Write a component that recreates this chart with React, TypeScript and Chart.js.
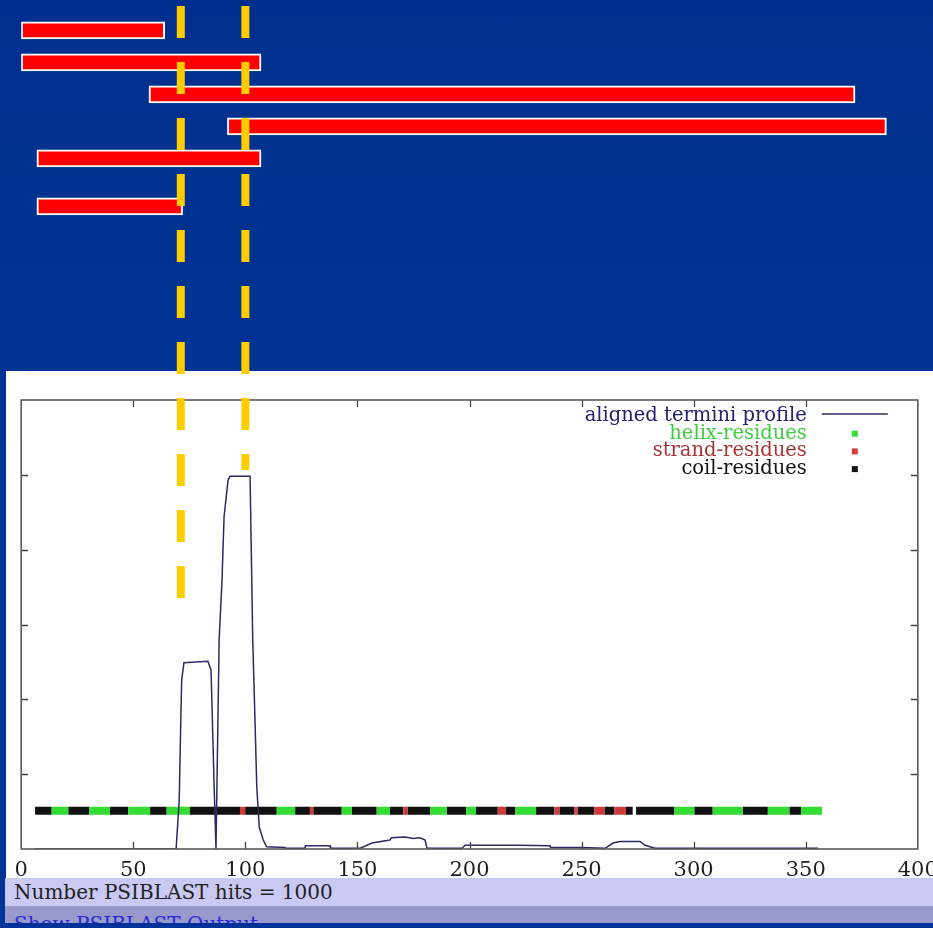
import React, { useEffect, useRef } from "react";
import { Chart, registerables } from "chart.js";

Chart.register(...registerables);

// ---------------- data ----------------
const xTickValues = [0, 50, 100, 150, 200, 250, 300, 350, 400];
const yTickValues = [1, 2, 3, 4, 5];

const profileX = [
  6, 69.1, 70.5, 71.2, 71.6, 72.6, 83.3, 84.7, 86.0, 86.9, 88.3, 89.6, 90.5, 92.3, 93.2, 102.1,
  103.3, 104.3, 105.1, 106.2, 108.0, 109.5, 117.7, 117.8, 126.6, 126.8, 137.8, 138.0, 151.2, 156.5,
  164.5, 165.2, 171.2, 175.0, 177.9, 180.2, 181.0, 196.7, 198.0, 221.2, 235.9, 236.2, 249.3, 260.5,
  264.0, 267.2, 276.1, 278.3, 282.8, 355.5,
];
const profileY = [
  0, 0, 0.65, 1.72, 2.26, 2.49, 2.51, 2.39, 0.92, 0, 2.79, 3.6, 4.44, 4.93, 4.98, 4.98,
  2.79, 1.72, 0.83, 0.29, 0.12, 0.03, 0.02, 0.01, 0.01, 0.045, 0.045, 0.01, 0.01, 0.08,
  0.12, 0.15, 0.16, 0.14, 0.15, 0.12, 0.01, 0.01, 0.05, 0.05, 0.045, 0.02, 0.02, 0.01,
  0.08, 0.1, 0.1, 0.05, 0.01, 0.01,
];

// secondary-structure band: C = coil, H = helix, E = strand
const residueLevel = 0.51;
const residueStarts = [
  6.2, 13.6, 21.0, 30.4, 39.6, 47.8, 57.5, 64.9, 75.3, 97.6, 99.9, 114.0, 122.2, 128.8, 130.3,
  143.0, 147.5, 158.6, 164.5, 170.5, 172.3, 182.4, 189.8, 198.5, 202.9, 212.6, 216.3, 220.5,
  229.7, 237.9, 240.1, 246.8, 248.3, 255.7, 260.2, 264.6, 269.8, 274.3, 291.4, 300.3, 308.5,
  321.9, 333.1, 342.7, 347.9,
];
const residueEnds = [
  13.6, 21.0, 30.4, 39.6, 47.8, 57.5, 64.9, 75.3, 97.6, 99.9, 114.0, 122.2, 128.8, 130.3, 143.0,
  147.5, 158.6, 164.5, 170.5, 172.3, 182.4, 189.8, 198.5, 202.9, 212.6, 216.3, 220.5, 229.7,
  237.9, 240.1, 246.8, 248.3, 255.7, 260.2, 264.6, 269.8, 272.8, 291.4, 300.3, 308.5, 321.9,
  333.1, 342.7, 347.9, 357.3,
];
const residueTypes = [
  "C", "H", "C", "H", "C", "H", "C", "H", "C", "E", "C", "H", "C", "E", "C",
  "H", "C", "H", "C", "E", "C", "H", "C", "H", "C", "E", "C", "H",
  "C", "E", "C", "E", "C", "E", "C", "E", "C", "C", "H", "C", "H",
  "C", "H", "C", "H",
];

// PSI-BLAST hit ranges (top panel)
const hitRows = [1, 2, 3, 4, 5, 6.5];
const hitStarts = [0, 0, 57, 92, 7, 7];
const hitEnds = [64, 107, 372, 386, 107, 72];

// yellow dashed guides
const guideX = [71.2, 100];
const guideTop = [0.24, 0.24];
const guideBottom = [18.74, 14.74];

const legendLabels = ["aligned termini profile", "helix-residues", "strand-residues", "coil-residues"];
const legendTextColors = ["#22226e", "#3fcc3f", "#a83535", "#111111"];
const hitsText = "Number PSIBLAST hits = 1000";
const linkText = "Show PSIBLAST Output";

// ---------------- colours ----------------
const PROFILE = "#2b2b62";
const HELIX = "#33dd33";
const STRAND = "#d03a3a";
const COIL = "#111111";

function residueSeries(type: string) {
  const pts: any[] = [];
  residueTypes.forEach((t, i) => {
    if (t !== type) return;
    pts.push({ x: residueStarts[i], y: residueLevel });
    pts.push({ x: residueEnds[i], y: residueLevel });
    pts.push({ x: residueEnds[i], y: null });
  });
  return pts;
}

const framePlugin = {
  id: "gnuplotFrame",
  afterDraw(chart: any) {
    const { ctx, chartArea: a, scales } = chart;
    const xs = scales.x;
    const ys = scales.y;
    ctx.save();
    // inward ticks
    ctx.strokeStyle = "#444";
    ctx.lineWidth = 1.3;
    const tl = 7;
    ctx.beginPath();
    xs.ticks.forEach((t: any) => {
      if (t.value <= xs.min || t.value >= xs.max) return;
      const px = Math.round(xs.getPixelForValue(t.value)) + 0.5;
      ctx.moveTo(px, a.bottom);
      ctx.lineTo(px, a.bottom - tl);
      ctx.moveTo(px, a.top);
      ctx.lineTo(px, a.top + tl);
    });
    ys.ticks.forEach((t: any) => {
      if (t.value <= ys.min || t.value >= ys.max) return;
      const py = Math.round(ys.getPixelForValue(t.value)) + 0.5;
      ctx.moveTo(a.left, py);
      ctx.lineTo(a.left + tl, py);
      ctx.moveTo(a.right, py);
      ctx.lineTo(a.right - tl, py);
    });
    ctx.stroke();
    // border
    ctx.strokeStyle = "#5a5a5a";
    ctx.lineWidth = 1.6;
    ctx.strokeRect(a.left, a.top, a.right - a.left, a.bottom - a.top);

    // legend (gnuplot style, right aligned text, sample on the right)
    const ds = chart.data.datasets;
    ctx.font = "19.5px 'DejaVu Serif'";
    ctx.textAlign = "right";
    ctx.textBaseline = "middle";
    const textRight = a.right - 111;
    const sampleL = a.right - 96;
    const sampleR = a.right - 30;
    const markX = a.right - 63;
    const y0 = a.top + 16;
    const dy = 17.7;
    legendLabels.forEach((lab, i) => {
      const y = y0 + i * dy;
      ctx.fillStyle = legendTextColors[i];
      ctx.fillText(lab, textRight, y);
      const d = ds[i];
      if (i === 0) {
        ctx.strokeStyle = d.borderColor;
        ctx.lineWidth = 1.4;
        ctx.beginPath();
        ctx.moveTo(sampleL, y - 2);
        ctx.lineTo(sampleR, y - 2);
        ctx.stroke();
      } else {
        ctx.fillStyle = d.borderColor;
        ctx.fillRect(markX - 3, y - 3, 6, 6);
      }
    });
    ctx.restore();
  },
};

export default function App() {
  const topRef = useRef<HTMLCanvasElement>(null);
  const plotRef = useRef<HTMLCanvasElement>(null);

  useEffect(() => {
    const plot = new Chart(plotRef.current as HTMLCanvasElement, {
      type: "line",
      data: {
        datasets: [
          {
            label: legendLabels[0],
            data: profileX.map((x, i) => ({ x, y: profileY[i] })),
            borderColor: PROFILE,
            borderWidth: 1.5,
            pointRadius: 0,
            tension: 0,
            fill: false,
            order: 0,
          },
          {
            label: legendLabels[1],
            data: residueSeries("H"),
            borderColor: HELIX,
            borderWidth: 8,
            borderCapStyle: "butt",
            pointRadius: 0,
            spanGaps: false,
            order: 1,
          },
          {
            label: legendLabels[2],
            data: residueSeries("E"),
            borderColor: STRAND,
            borderWidth: 8,
            borderCapStyle: "butt",
            pointRadius: 0,
            spanGaps: false,
            order: 1,
          },
          {
            label: legendLabels[3],
            data: residueSeries("C"),
            borderColor: COIL,
            borderWidth: 8,
            borderCapStyle: "butt",
            pointRadius: 0,
            spanGaps: false,
            order: 1,
          },
        ],
      } as any,
      options: {
        animation: false,
        responsive: false,
        devicePixelRatio: 1,
        events: [],
        layout: { autoPadding: false, padding: { left: 15.2, right: 15.2, top: 29, bottom: 0 } },
        plugins: { legend: { display: false }, tooltip: { enabled: false } },
        scales: {
          x: {
            type: "linear",
            min: 0,
            max: 400,
            offset: false,
            grid: { display: false, drawTicks: false },
            border: { display: false },
            afterBuildTicks: (s: any) => {
              s.ticks = xTickValues.map((v) => ({ value: v }));
            },
            afterFit: (s: any) => {
              s.height = 29;
              s.paddingLeft = 0;
              s.paddingRight = 0;
            },
            ticks: {
              autoSkip: false,
              maxRotation: 0,
              padding: 9,
              color: "#1e1e1e",
              font: { family: "'DejaVu Serif'", size: 21 },
              callback: (v: any) => String(v),
            },
          },
          y: {
            type: "linear",
            min: 0,
            max: 6,
            display: false,
            afterBuildTicks: (s: any) => {
              s.ticks = yTickValues.map((v) => ({ value: v }));
            },
          },
        },
      } as any,
      plugins: [framePlugin],
    });

    const top = new Chart(topRef.current as HTMLCanvasElement, {
      type: "bar",
      data: {
        datasets: [
          {
            type: "line",
            data: [
              { x: guideX[0], y: guideTop[0] },
              { x: guideX[0], y: guideBottom[0] },
            ],
            borderColor: "#ffcc00",
            borderWidth: 8,
            borderDash: [32, 24],
            borderCapStyle: "butt",
            pointRadius: 0,
            order: 0,
          },
          {
            type: "line",
            data: [
              { x: guideX[1], y: guideTop[1] },
              { x: guideX[1], y: guideBottom[1] },
            ],
            borderColor: "#ffcc00",
            borderWidth: 8,
            borderDash: [32, 24],
            borderCapStyle: "butt",
            pointRadius: 0,
            order: 0,
          },
          {
            type: "bar",
            indexAxis: "y",
            data: hitRows.map((r, i) => ({ y: r, x: [hitStarts[i], hitEnds[i]] })),
            backgroundColor: "#ff0000",
            borderColor: "#ffffff",
            borderWidth: 2,
            borderSkipped: false,
            barThickness: 17,
            order: 1,
          },
        ],
      } as any,
      options: {
        animation: false,
        responsive: false,
        devicePixelRatio: 1,
        events: [],
        layout: { autoPadding: false, padding: { left: 21.2, right: 15.2, top: 0, bottom: 0 } },
        plugins: { legend: { display: false }, tooltip: { enabled: false } },
        scales: {
          x: { type: "linear", min: 0, max: 400, offset: false, display: false },
          y: { type: "linear", min: 0.05, max: 19.05, reverse: true, offset: false, display: false },
        },
      } as any,
    });

    return () => {
      plot.destroy();
      top.destroy();
    };
  }, []);

  return (
    <div
      style={{
        position: "fixed",
        left: 0,
        top: 0,
        width: 933,
        height: 928,
        overflow: "hidden",
        background: "linear-gradient(180deg, #002e8c 0%, #00338f 20%, #003399 60%, #003399 100%)",
      }}
    >
      <canvas
        ref={plotRef}
        width={927}
        height={507}
        style={{ position: "absolute", left: 6, top: 371, width: 927, height: 507, background: "#ffffff" }}
      />
      <canvas
        ref={topRef}
        width={933}
        height={608}
        style={{ position: "absolute", left: 0, top: 0, width: 933, height: 608 }}
      />
      <div
        style={{
          position: "absolute",
          left: 5,
          top: 878,
          width: 928,
          height: 28,
          background: "#c9c9f3",
          overflow: "hidden",
        }}
      >
        <span
          style={{
            position: "absolute",
            left: 9,
            top: 4,
            whiteSpace: "nowrap",
            font: "20px/20px 'DejaVu Serif'",
            color: "#1e1e1e",
          }}
        >
          {hitsText}
        </span>
      </div>
      <div
        style={{
          position: "absolute",
          left: 5,
          top: 906,
          width: 928,
          height: 17,
          background: "#9999cc",
          overflow: "hidden",
        }}
      >
        <span
          style={{
            position: "absolute",
            left: 9,
            top: 8,
            whiteSpace: "nowrap",
            font: "20px/20px 'DejaVu Serif'",
            color: "#2a2ad2",
          }}
        >
          {linkText}
        </span>
      </div>
    </div>
  );
}
